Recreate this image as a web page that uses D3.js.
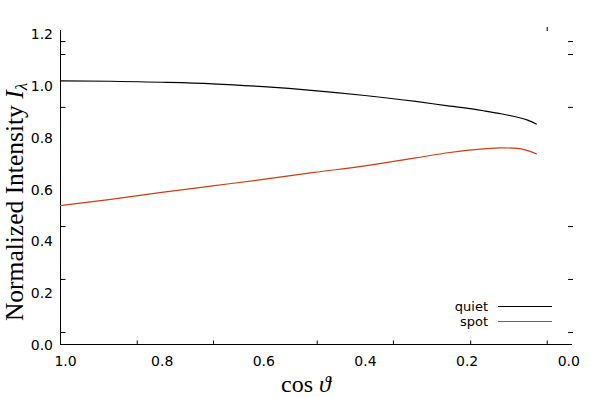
<!DOCTYPE html>
<html><head><meta charset="utf-8">
<script src="https://cdn.jsdelivr.net/npm/d3@7"></script>
<style>
body{margin:0;background:#fff;}
svg{display:block;}
.tl text{font-family:"DejaVu Sans",sans-serif;font-size:14px;fill:#000;}
</style></head>
<body><svg id="c" width="600" height="398"></svg>
<script>
const mu = [1.0, 0.9, 0.8, 0.7, 0.6, 0.5, 0.4, 0.3, 0.233, 0.2, 0.167, 0.134, 0.1, 0.08, 0.062];
const quiet = [1.019, 1.018, 1.014, 1.008, 0.997, 0.982, 0.963, 0.940, 0.922, 0.914, 0.904, 0.893, 0.879, 0.868, 0.852];
const spot = [0.538, 0.562, 0.589, 0.614, 0.639, 0.666, 0.691, 0.722, 0.743, 0.751, 0.757, 0.761, 0.759, 0.750, 0.737];
const seriesNames = ["quiet", "spot"];
const seriesColors = ["#000000", "#cf3d12"];
const xTickLabels = [1.0, 0.8, 0.6, 0.4, 0.2, 0.0];
const yTickLabels = [0.0, 0.2, 0.4, 0.6, 0.8, 1.0, 1.2];
const xMinorTicks = [0.849, 0.699, 0.495, 0.345, 0.193, 0.0425];
const xTopTicks = [0.0425];
const yMinorTicks = [0.050, 0.255, 0.459, 0.919, 1.123, 1.173];

const svg = d3.select("#c");
const x = d3.scaleLinear().domain([1.0, -0.0073]).range([60, 572]);
const y = d3.scaleLinear().domain([0, 1.2157]).range([345, 30]);

// axis lines
svg.append("line").attr("x1", 60.5).attr("x2", 60.5).attr("y1", 30).attr("y2", 345).attr("stroke", "#000");
svg.append("line").attr("x1", 60).attr("x2", 572).attr("y1", 344.5).attr("y2", 344.5).attr("stroke", "#000");

// minor ticks
const tickStyle = g => { g.select(".domain").remove(); g.selectAll("line").attr("stroke", "#000"); g.selectAll("text").remove(); };
svg.append("g").attr("transform", "translate(60.5,0)")
  .call(d3.axisLeft(y).tickValues(yMinorTicks).tickSize(-5).tickFormat("")).call(tickStyle);
svg.append("g").attr("transform", "translate(573,0)")
  .call(d3.axisRight(y).tickValues(yMinorTicks).tickSize(-5).tickFormat("")).call(tickStyle);
svg.append("g").attr("transform", "translate(0,344.5)")
  .call(d3.axisBottom(x).tickValues(xMinorTicks).tickSize(-4).tickFormat("")).call(tickStyle);
svg.append("g").attr("transform", "translate(0,31)")
  .call(d3.axisTop(x).tickValues(xTopTicks).tickSize(4).tickFormat("")).call(tickStyle);

// tick labels
const yl = svg.append("g").attr("class", "tl").attr("transform", "translate(60,0)")
  .call(d3.axisLeft(y).tickValues(yTickLabels).tickSize(0).tickPadding(7).tickFormat(d3.format(".1f")));
yl.select(".domain").remove();
const xl = svg.append("g").attr("class", "tl").attr("transform", "translate(0,345)")
  .call(d3.axisBottom(x).tickValues(xTickLabels).tickSize(0).tickPadding(11).tickFormat(d3.format(".1f")));
xl.select(".domain").remove();
xl.selectAll("text").filter(d => d === 1.0).attr("dx", 5);

// curves
const line = d3.line().x(d => x(d[0])).y(d => y(d[1])).curve(d3.curveMonotoneX);
[quiet, spot].forEach((s, i) => {
  svg.append("path").datum(mu.map((m, j) => [m, s[j]]))
    .attr("d", line).attr("fill", "none").attr("stroke", seriesColors[i]).attr("stroke-width", 1.2);
});

// legend
seriesNames.forEach((n, i) => {
  const yy = 306.5 + i * 15;
  svg.append("text").attr("x", 488).attr("y", yy + 4).attr("text-anchor", "end")
    .attr("font-family", "DejaVu Sans, sans-serif").attr("font-size", 13).text(n);
  svg.append("line").attr("x1", 498).attr("x2", 552).attr("y1", yy).attr("y2", yy)
    .attr("stroke", seriesColors[i]).attr("stroke-width", 1.2);
});

// axis titles
const yt = svg.append("text").attr("transform", "translate(22.5,202) rotate(-90)")
  .attr("text-anchor", "middle").attr("font-family", "Liberation Serif, serif").attr("font-size", 25.5);
yt.append("tspan").text("Normalized Intensity ");
yt.append("tspan").attr("font-style", "italic").text("I");
yt.append("tspan").attr("font-size", 17).attr("dy", 4).attr("font-style", "italic").text("λ");

const xt = svg.append("text").attr("x", 306).attr("y", 392)
  .attr("text-anchor", "middle").attr("font-family", "Liberation Serif, serif").attr("font-size", 24);
xt.append("tspan").text("cos ");
xt.append("tspan").attr("font-style", "italic").text("ϑ");
</script></body></html>
